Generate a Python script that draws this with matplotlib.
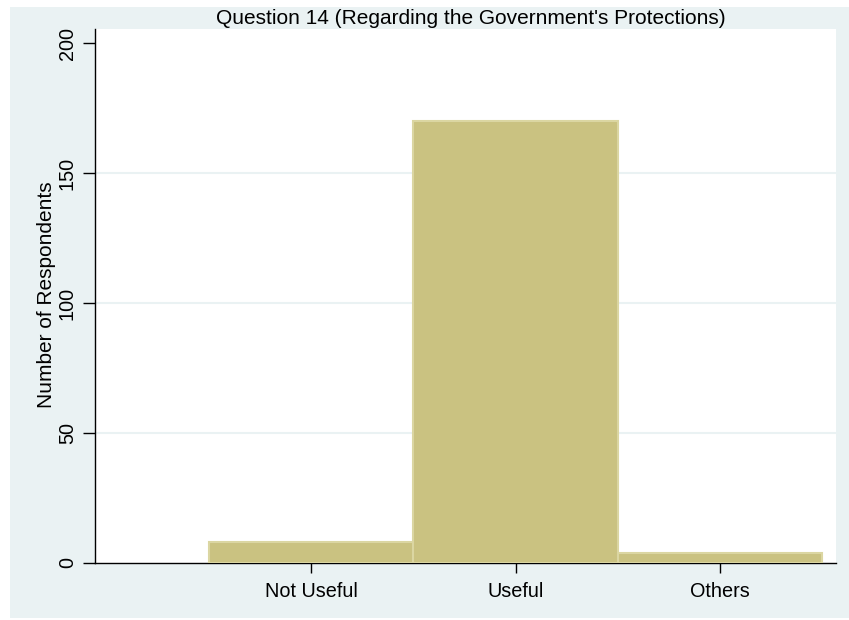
import matplotlib
matplotlib.use("Agg")
import matplotlib.pyplot as plt
from matplotlib.patches import Rectangle

# Data
categories = ["Not Useful", "Useful", "Others"]
counts = [8, 170, 4]
positions = [1, 2, 3]

BG = "#EAF2F3"
BAR = "#CAC281"
BAR_EDGE = "#DBD6A2"
GRID = "#EAF2F3"

plt.rcParams["font.family"] = ["Liberation Sans", "DejaVu Sans"]

fig = plt.figure(figsize=(8.49, 6.20), dpi=100)
fig.patch.set_facecolor("white")
# Stata-like outer panel with a thin white margin on the left/top/bottom
fig.patches.append(Rectangle((10 / 849, 2 / 620), 1, 611 / 620, transform=fig.transFigure,
                             facecolor=BG, edgecolor="none", zorder=-10))

ax = fig.add_axes([95 / 849, (620 - 563) / 620, (836 - 95) / 849, (563 - 29) / 620])
ax.set_facecolor("white")

ax.bar(positions, counts, width=1.0, color=BAR, edgecolor=BAR_EDGE, linewidth=1.5, zorder=3)

ax.set_xlim(-0.057, 3.567)
ax.set_ylim(0, 205.4)
ax.set_yticks([0, 50, 100, 150, 200])
ax.set_xticks(positions)
ax.set_xticklabels(categories)

for y in [50, 100, 150]:
    ax.axhline(y, color=GRID, linewidth=1.5, zorder=1)

for side in ["top", "right"]:
    ax.spines[side].set_visible(False)
for side in ["left", "bottom"]:
    ax.spines[side].set_color("black")
    ax.spines[side].set_linewidth(1.0)

ax.tick_params(axis="x", length=7, width=1, pad=7, labelsize=14.3, colors="black")
ax.tick_params(axis="y", length=9, width=1, pad=4, labelsize=14.3, colors="black")
for lbl in ax.get_yticklabels():
    lbl.set_rotation(90)
    lbl.set_va("center")

fig.text(52 / 849, 1 - 294.5 / 620, "Number of Respondents", fontsize=15,
         rotation=90, rotation_mode="anchor", ha="center", va="baseline")
fig.text(471 / 849, 1 - 19 / 620, "Question 14 (Regarding the Government's Protections)",
         fontsize=15, ha="center", va="center")

fig.savefig("out.png", dpi=100, facecolor="white")
